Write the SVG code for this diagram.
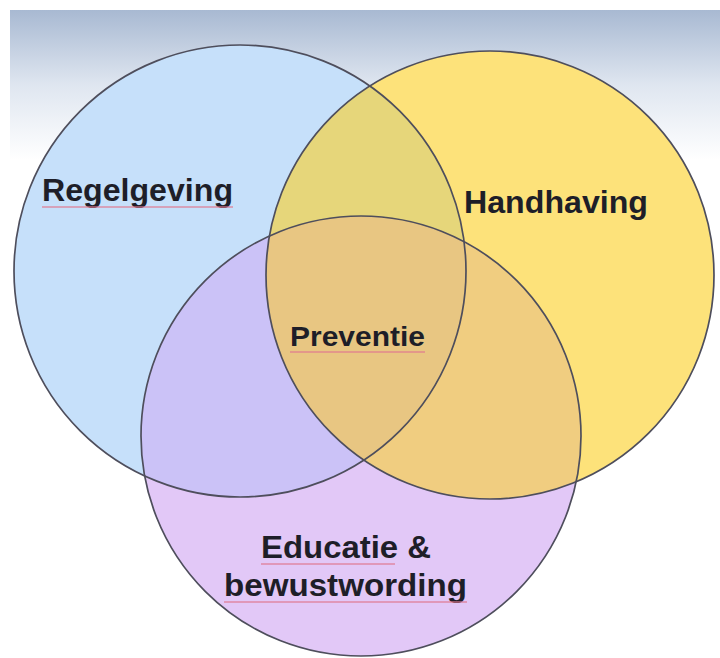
<svg xmlns="http://www.w3.org/2000/svg" width="720" height="658" viewBox="0 0 720 658">
<style>
.lbl{font-family:"Liberation Sans",Arial,sans-serif;font-weight:bold;font-size:32px;fill:#1e1e28}
.edge{fill:none;stroke:#4e4e5c;stroke-width:1.7}
.sq{stroke:#e07890;stroke-width:1.6;fill:none;opacity:0.8}
</style>
<defs>
<linearGradient id="bg" x1="0" y1="0" x2="0" y2="1">
<stop offset="0" stop-color="#a8b9d2"/>
<stop offset="0.5" stop-color="#dfe6f0"/>
<stop offset="1" stop-color="#ffffff"/>
</linearGradient>
<clipPath id="cB"><circle cx="240" cy="271" r="226"/></clipPath>
<clipPath id="cY"><circle cx="490" cy="275" r="224"/></clipPath>
<clipPath id="cP"><circle cx="361" cy="436" r="220"/></clipPath>
</defs>
<rect width="720" height="658" fill="#ffffff"/>
<rect x="10" y="10" width="710" height="150" fill="url(#bg)"/>
<g id="regelgeving">
<circle cx="240" cy="271" r="226" fill="#c6e0fa"/>
</g>
<g id="handhaving">
<circle cx="490" cy="275" r="224" fill="#fde27a"/>
</g>
<g id="educatie">
<circle cx="361" cy="436" r="220" fill="#e2c8f7"/>
</g>
<g id="overlaps">
<g clip-path="url(#cB)"><circle cx="490" cy="275" r="224" fill="#e6d67a"/></g>
<g clip-path="url(#cB)"><circle cx="361" cy="436" r="220" fill="#cbc2f7"/></g>
<g clip-path="url(#cY)"><circle cx="361" cy="436" r="220" fill="#f0cd80"/></g>
<g clip-path="url(#cB)"><g clip-path="url(#cY)"><circle cx="361" cy="436" r="220" fill="#e8c682"/></g></g>
</g>
<g id="outlines">
<circle class="edge" cx="240" cy="271" r="226"/>
<circle class="edge" cx="490" cy="275" r="224"/>
<circle class="edge" cx="361" cy="436" r="220"/>
</g>
<g id="labels">
<text class="lbl" x="42" y="201" textLength="191" lengthAdjust="spacingAndGlyphs">Regelgeving</text>
<line class="sq" x1="42" y1="207" x2="233" y2="207"/>
<text class="lbl" x="464" y="213" textLength="184" lengthAdjust="spacingAndGlyphs">Handhaving</text>
<text class="lbl" x="290" y="346" style="font-size:28px" textLength="135" lengthAdjust="spacingAndGlyphs">Preventie</text>
<line class="sq" x1="290" y1="352" x2="425" y2="352"/>
<text class="lbl" x="261" y="558" textLength="170" lengthAdjust="spacingAndGlyphs">Educatie  &amp;</text>
<line class="sq" x1="261" y1="564" x2="395" y2="564"/>
<text class="lbl" x="224" y="596" textLength="243" lengthAdjust="spacingAndGlyphs">bewustwording</text>
<line class="sq" x1="224" y1="602" x2="467" y2="602"/>
</g>
</svg>
